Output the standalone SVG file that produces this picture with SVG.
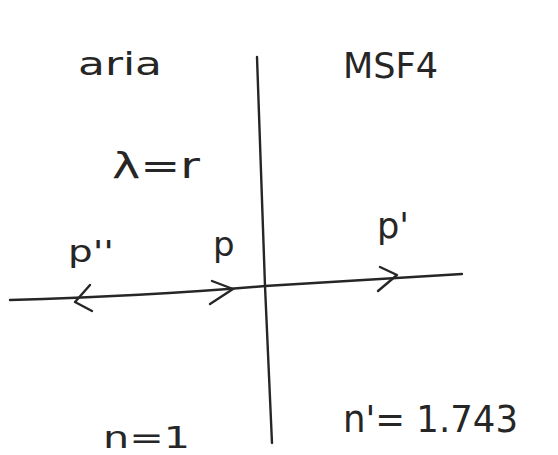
<svg xmlns="http://www.w3.org/2000/svg" width="558" height="455" viewBox="0 0 558 455">
  <style>
    .ink { fill: none; stroke: #262626; stroke-width: 2.4; stroke-linecap: round; stroke-linejoin: round; }
    .lbl { font-family: "DejaVu Sans", "Liberation Sans", sans-serif; fill: #262626; }
  </style>
  <rect width="558" height="455" fill="#ffffff"/>
  <g id="connectors">
    <path id="interface" class="ink" d="M257,57 L265,286 L272,443"/>
    <path id="ray" class="ink" d="M10,300 Q150,296 265,286 L462,274"/>
    <path id="arrow-p" class="ink" d="M212,281 L233,289 L210,304"/>
    <path id="arrow-p2" class="ink" d="M90,285 L75,302 L92,311"/>
    <path id="arrow-p1" class="ink" d="M380,267 L397,275 L378,291"/>
  </g>
  <g id="label-aria"><text class="lbl" x="78" y="75" font-size="32" textLength="84" lengthAdjust="spacingAndGlyphs">aria</text></g>
  <g id="label-msf4"><text class="lbl" x="343" y="78" font-size="36" textLength="95" lengthAdjust="spacingAndGlyphs">MSF4</text></g>
  <g id="label-lambda"><text class="lbl" x="112" y="178" font-size="36" textLength="88" lengthAdjust="spacingAndGlyphs">λ=r</text></g>
  <g id="label-p2"><text class="lbl" x="68" y="262" font-size="30" textLength="46" lengthAdjust="spacingAndGlyphs">p''</text></g>
  <g id="label-p"><text class="lbl" x="213" y="256" font-size="34">p</text></g>
  <g id="label-p1"><text class="lbl" x="377" y="238" font-size="36" textLength="32" lengthAdjust="spacingAndGlyphs">p'</text></g>
  <g id="label-n1"><text class="lbl" x="343" y="432" font-size="38" textLength="175" lengthAdjust="spacingAndGlyphs">n'= 1.743</text></g>
  <g id="label-n"><text class="lbl" x="103" y="448" font-size="30" textLength="87" lengthAdjust="spacingAndGlyphs">n=1</text></g>
</svg>
